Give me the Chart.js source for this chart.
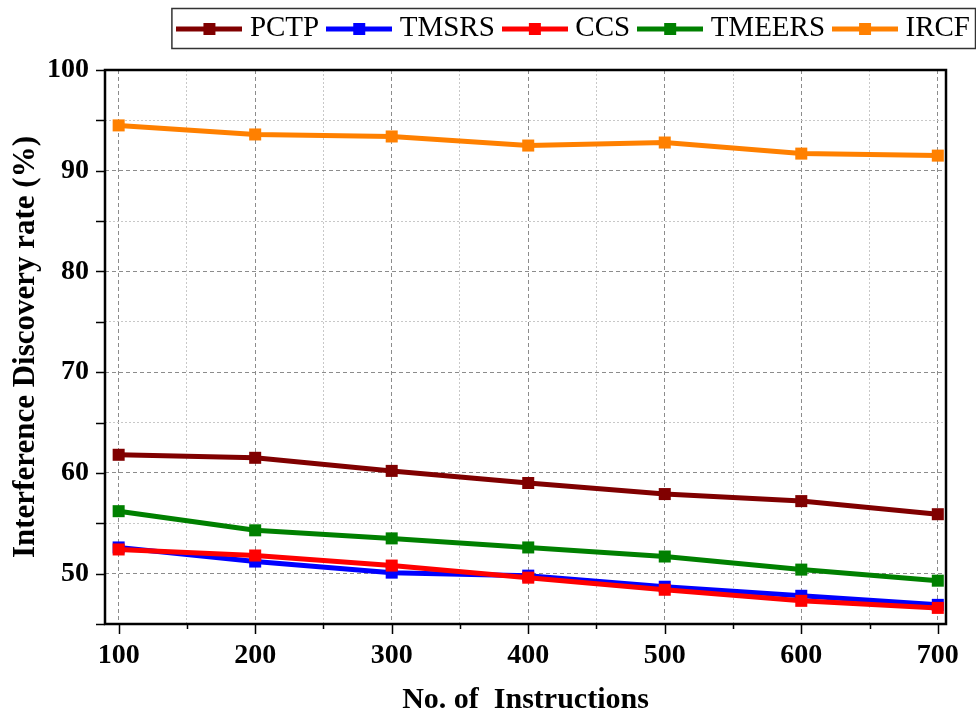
<!DOCTYPE html>
<html lang="en">

<head>
  <meta charset="UTF-8">
  <title>Interference Discovery rate</title>
  <script src="https://cdn.jsdelivr.net/npm/chart.js"></script>
  <style>
    body {
      margin: 0;
      background: #fff;
    }

    .chart-container {
      position: relative;
      width: 976px;
      height: 716px;
    }
  </style>
</head>

<body>
  <div class="chart-container">
    <canvas id="grafico" width="976" height="716"></canvas>
  </div>

  <script>
    // datos
    const instrucciones = [100, 200, 300, 400, 500, 600, 700];
    const pctp = [61.8, 61.5, 60.2, 59.0, 57.9, 57.2, 55.9];
    const tmsrs = [52.6, 51.2, 50.1, 49.8, 48.7, 47.8, 46.9];
    const ccs = [52.4, 51.8, 50.8, 49.6, 48.4, 47.3, 46.6];
    const tmeers = [56.2, 54.3, 53.5, 52.6, 51.7, 50.4, 49.3];
    const ircf = [94.5, 93.6, 93.4, 92.5, 92.8, 91.7, 91.5];

    const xTicks = [100, 150, 200, 250, 300, 350, 400, 450, 500, 550, 600, 650, 700];
    const yTicks = [45, 50, 55, 60, 65, 70, 75, 80, 85, 90, 95, 100];

    const series = [
      { label: 'PCTP', data: pctp, color: '#800000' },
      { label: 'TMSRS', data: tmsrs, color: '#0000ff' },
      { label: 'CCS', data: ccs, color: '#ff0000' },
      { label: 'TMEERS', data: tmeers, color: '#008000' },
      { label: 'IRCF', data: ircf, color: '#ff8000' }
    ];

    const serif = "'Liberation Serif', 'Times New Roman', serif";

    // icono de la leyenda: linea con cuadrado
    function iconoLeyenda(color) {
      const c = document.createElement('canvas');
      c.width = 66;
      c.height = 12;
      const ctx = c.getContext('2d');
      ctx.fillStyle = color;
      ctx.fillRect(0, 4, 66, 5);
      ctx.fillRect(27, 0, 12, 12);
      return c;
    }

    const datasets = series.map((s, i) => ({
      label: s.label,
      data: instrucciones.map((x, j) => ({ x: x, y: s.data[j] })),
      borderColor: s.color,
      backgroundColor: s.color,
      borderWidth: 5,
      pointStyle: 'rect',
      pointRadius: 8.5,
      pointHoverRadius: 8.5,
      pointBorderWidth: 0,
      tension: 0,
      order: series.length - i // las ultimas series quedan encima
    }));

    // leyenda mas alta para que el area del grafico empiece en y=70
    const leyendaAltura = {
      id: 'leyendaAltura',
      afterInit(chart) {
        const fitOriginal = chart.legend.fit;
        chart.legend.fit = function () {
          fitOriginal.call(this);
          this.height = 70;
        };
      }
    };

    // marco, marcas de ejes y borde de la leyenda
    const marcoPlugin = {
      id: 'marco',
      afterDraw(chart) {
        const ctx = chart.ctx;
        const a = chart.chartArea;
        const xs = chart.scales.x;
        const ys = chart.scales.y;
        ctx.save();
        ctx.strokeStyle = '#000';
        ctx.lineWidth = 1.5;
        ctx.beginPath();
        yTicks.forEach(v => {
          const py = Math.round(ys.getPixelForValue(v)) + 0.5;
          ctx.moveTo(a.left, py);
          ctx.lineTo(a.left - 9, py);
        });
        xTicks.forEach(v => {
          const px = Math.round(xs.getPixelForValue(v)) + 0.5;
          ctx.moveTo(px, a.bottom);
          ctx.lineTo(px, a.bottom + (v % 100 === 0 ? 10 : 5));
        });
        ctx.stroke();
        ctx.lineWidth = 2.5;
        ctx.strokeRect(a.left, a.top, a.right - a.left, a.bottom - a.top);

        const hb = chart.legend.legendHitBoxes;
        if (hb && hb.length) {
          const first = hb[0];
          const last = hb[hb.length - 1];
          const x0 = first.left - 11.5;
          const x1 = Math.min(last.left + last.width + 5.5, 975.5);
          ctx.lineWidth = 1.5;
          ctx.strokeStyle = '#333';
          ctx.strokeRect(x0, 8.5, x1 - x0, 40);
        }
        ctx.restore();
      }
    };

    new Chart(document.getElementById('grafico'), {
      type: 'line',
      data: { datasets: datasets },
      plugins: [leyendaAltura, marcoPlugin],
      options: {
        responsive: false,
        animation: false,
        layout: { padding: { top: 0, left: 8, right: -8, bottom: 0 } },
        plugins: {
          tooltip: { enabled: false },
          legend: {
            position: 'top',
            align: 'end',
            labels: {
              usePointStyle: true,
              pointStyleWidth: 52,
              padding: 14,
              color: '#000',
              font: { family: serif, size: 29 },
              generateLabels(chart) {
                return series.map((s, i) => ({
                  text: s.label,
                  pointStyle: iconoLeyenda(s.color),
                  fillStyle: s.color,
                  strokeStyle: s.color,
                  lineWidth: 0,
                  hidden: false,
                  datasetIndex: i
                }));
              }
            }
          }
        },
        scales: {
          x: {
            type: 'linear',
            min: 90,
            max: 706,
            afterBuildTicks(scale) {
              scale.ticks = xTicks.map(v => ({ value: v }));
            },
            afterFit(scale) {
              scale.height = 92;
              scale.paddingRight = 30;
            },
            grid: {
              drawTicks: false,
              color: ctx => ctx.tick && ctx.tick.value % 100 === 0 ? '#8c8c8c' : '#c8c8c8',
              lineWidth: 1
            },
            border: {
              display: false,
              dash: ctx => ctx.tick && ctx.tick.value % 100 === 0 ? [4, 3] : [2, 2]
            },
            ticks: {
              padding: 15,
              color: '#000',
              font: { family: serif, size: 28, weight: 'bold' },
              callback: v => (v % 100 === 0 ? v : '')
            },
            title: {
              display: true,
              text: 'No. of  Instructions',
              color: '#000',
              font: { family: serif, size: 30, weight: 'bold', lineHeight: 1 },
              padding: { top: 0, bottom: 1 }
            }
          },
          y: {
            min: 45,
            max: 100,
            afterBuildTicks(scale) {
              scale.ticks = yTicks.map(v => ({ value: v }));
            },
            afterFit(scale) {
              scale.width = 97;
            },
            grid: {
              drawTicks: false,
              color: ctx => ctx.tick && ctx.tick.value % 10 === 0 ? '#8c8c8c' : '#c8c8c8',
              lineWidth: 1
            },
            border: {
              display: false,
              dash: ctx => ctx.tick && ctx.tick.value % 10 === 0 ? [4, 3] : [2, 2]
            },
            ticks: {
              padding: 16,
              color: '#000',
              font: { family: serif, size: 28, weight: 'bold' },
              callback: v => (v % 10 === 0 ? v : '')
            },
            title: {
              display: true,
              text: 'Interference Discovery rate (%)',
              color: '#000',
              font: { family: serif, size: 31, weight: 'bold', lineHeight: 1 },
              padding: { top: 2, bottom: 0 }
            }
          }
        }
      }
    });
  </script>

</body>

</html>
